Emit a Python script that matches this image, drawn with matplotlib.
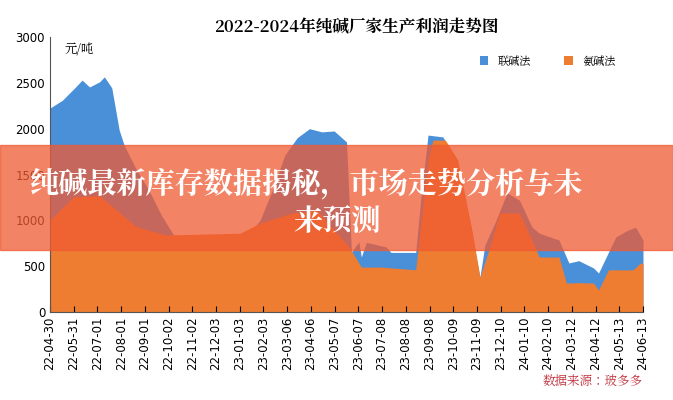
import numpy as np
import matplotlib.pyplot as plt
import matplotlib.font_manager as fm
from matplotlib.patches import Rectangle
from glob import glob

# find a CJK font
cjk = [f.name for f in fm.fontManager.ttflist if 'CJK' in f.name]
if not cjk:
    files = [p for d in ['/usr/share/fonts', '/usr/local/share/fonts', '/root/.fonts']
             for p in glob(d + '/**/*CJK*', recursive=True)]
    for p in files:
        try:
            fm.fontManager.addfont(p)
        except Exception:
            pass
    cjk = [f.name for f in fm.fontManager.ttflist if 'CJK' in f.name]
cjk_name = 'Noto Sans CJK SC' if 'Noto Sans CJK SC' in cjk else (cjk[0] if cjk else 'DejaVu Sans')
plt.rcParams['font.family'] = [cjk_name, 'DejaVu Sans']

dates = ['22-04-30', '22-05-31', '22-07-01', '22-08-01', '22-09-01', '22-10-02', '22-11-02',
         '22-12-03', '23-01-03', '23-02-03', '23-03-06', '23-04-06', '23-05-07', '23-06-07',
         '23-07-08', '23-08-08', '23-09-08', '23-10-09', '23-11-09', '23-12-10', '24-01-10',
         '24-02-10', '24-03-12', '24-04-12', '24-05-13', '24-06-13']
# 联碱法 (x: position along axis 0..24, yuan/ton)
lj_x = [0, 0.5, 1, 1.3, 1.6, 2, 2.2, 2.5, 2.8, 3, 3.5, 4, 4.5, 5, 5.5, 6, 7, 8, 8.5, 9, 9.5, 10,
        10.5, 11, 11.5, 12, 12.2, 12.5, 12.6, 12.8, 13.6, 13.8, 14.8, 15.0, 15.3, 15.9, 16.2,
        16.9, 17.4, 17.6, 18.0, 18.5, 19.0, 19.5, 19.8, 20.6, 21.0, 21.4, 22.0, 22.2, 22.9,
        23.4, 23.7, 24.0]
lj_y = [2225, 2310, 2445, 2530, 2455, 2510, 2565, 2445, 1985, 1820, 1550, 1330, 1060, 840, 785,
        785, 785, 840, 1000, 1330, 1710, 1900, 2000, 1965, 1975, 1855, 655, 765, 600, 760, 710,
        650, 650, 1220, 1930, 1910, 1770, 1110, 380, 730, 970, 1300, 1220, 930, 860, 785, 535,
        560, 480, 425, 820, 895, 925, 785]
# 氨碱法
aj_x = [0, 0.95, 2.0, 2.7, 3.5, 4.7, 7.7, 8.5, 9.8, 10.8, 12.1, 12.6, 13.4, 14.8, 15.3, 15.5,
        16.0, 16.5, 17.1, 17.4, 17.8, 18.2, 19.0, 19.5, 19.8, 20.6, 20.9, 21.4, 22.0, 22.2,
        22.6, 23.6, 23.9, 24.0]
aj_y = [1000, 1255, 1270, 1110, 930, 840, 860, 970, 1080, 1110, 710, 490, 490, 460, 1660, 1875,
        1875, 1660, 860, 380, 710, 1080, 1080, 785, 600, 600, 315, 320, 315, 240, 460, 460,
        535, 530]

fig = plt.figure(figsize=(6.73, 4), dpi=100)
ax = fig.add_axes([50/673, 0.22, 593/673, 0.6875])

ax.fill_between(lj_x, lj_y, color='#4a90d9', label='联碱法', lw=0)
ax.fill_between(aj_x, aj_y, color='#ee7d31', label='氨碱法', lw=0)

ax.set_xlim(0, 24)
ax.set_ylim(0, 3000)
ax.set_yticks(range(0, 3001, 500))
ax.set_xticks(np.linspace(0, 24, len(dates)))
ax.set_xticklabels(dates, rotation=90, fontsize=8.5, fontfamily='DejaVu Sans')
ax.tick_params(axis='y', labelsize=8.5, length=0)
for lbl in ax.get_yticklabels():
    lbl.set_fontfamily('DejaVu Sans')
ax.tick_params(axis='x', direction='in', length=4)
for s in ['top', 'right']:
    ax.spines[s].set_visible(False)
ax.spines['left'].set_color('#555555')
ax.spines['bottom'].set_color('#555555')

ax.text(0.025, 0.98, '元/吨', transform=ax.transAxes, fontsize=9, va='top')
fig.text(0.53, 0.92, '2022-2024年纯碱厂家生产利润走势图', ha='center', fontsize=12, fontweight='bold')
ax.legend(loc='upper right', bbox_to_anchor=(0.97, 0.97), ncol=2, frameon=False, fontsize=8,
          handlelength=0.8, handleheight=0.8, columnspacing=3)
fig.text(0.955, 0.035, '数据来源：玻多多', ha='right', fontsize=9, color='#c0303a', style='italic')

# banner overlay
fig.patches.append(Rectangle((0, 1 - 250/400), 1, 105/400, transform=fig.transFigure,
                             color='#f05a32', alpha=0.75, zorder=5))
fig.text(30/673, 1 - 184/400, '纯碱最新库存数据揭秘，市场走势分析与未', fontsize=21,
         fontweight='bold', color='white', va='center', zorder=6)
fig.text(0.5, 1 - 221/400, '来预测', fontsize=21, fontweight='bold', color='white',
         ha='center', va='center', zorder=6)

fig.savefig('out.png', dpi=100)
